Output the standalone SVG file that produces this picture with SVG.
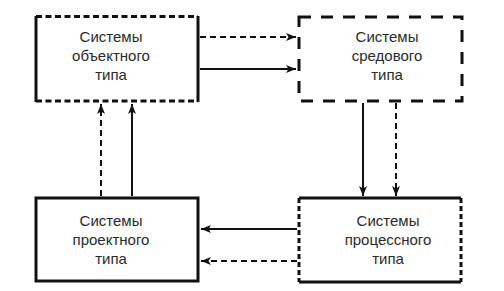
<svg xmlns="http://www.w3.org/2000/svg" width="504" height="291" viewBox="0 0 504 291">
<defs>
<marker id="ah" viewBox="0 0 10 8" refX="10" refY="4" markerWidth="10" markerHeight="8" markerUnits="userSpaceOnUse" orient="auto">
<path d="M0,0 L10,4 L0,8 L2.5,4 Z" fill="#111"/>
</marker>
<style>
.t{font-family:"Liberation Sans",Arial,sans-serif;font-size:15px;fill:#2a2a2a;text-anchor:middle}
.b{fill:none;stroke:#111;stroke-width:3}
.a{fill:none;stroke:#111;stroke-width:2;marker-end:url(#ah)}
.d{stroke-dasharray:6 4}
</style>
</defs>
<rect width="504" height="291" fill="#fff"/>
<g id="object">
<line class="b" x1="36" y1="16" x2="36" y2="102"/>
<line class="b" x1="198" y1="16" x2="198" y2="102"/>
<line class="b" x1="36" y1="16.5" x2="198" y2="16.5" stroke-dasharray="6 3.5" stroke-width="2.5"/>
<line class="b" x1="36" y1="101" x2="198" y2="101" stroke-dasharray="6 3.5" stroke-width="2.5"/>
<text class="t" x="111" y="42">Системы</text>
<text class="t" x="111" y="61">объектного</text>
<text class="t" x="111" y="80">типа</text>
</g>
<g id="environment">
<rect class="b" x="299" y="17" width="163" height="84" stroke-width="2.5" stroke-dasharray="12 10"/>
<text class="t" x="387" y="42">Системы</text>
<text class="t" x="387" y="61">средового</text>
<text class="t" x="387" y="80">типа</text>
</g>
<g id="project">
<rect class="b" x="36" y="198" width="162" height="83"/>
<text class="t" x="111" y="226">Системы</text>
<text class="t" x="111" y="245">проектного</text>
<text class="t" x="111" y="264">типа</text>
</g>
<g id="process">
<line class="b" x1="299" y1="198" x2="461" y2="198"/>
<line class="b" x1="299" y1="282" x2="461" y2="282"/>
<line class="b" x1="299" y1="198" x2="299" y2="282" stroke-width="2.5" stroke-dasharray="5 3"/>
<line class="b" x1="461" y1="198" x2="461" y2="282" stroke-width="2.5" stroke-dasharray="5 3"/>
<text class="t" x="388" y="226">Системы</text>
<text class="t" x="388" y="245">процессного</text>
<text class="t" x="388" y="264">типа</text>
</g>
<g id="connectors">
<line class="a d" x1="200" y1="37" x2="296" y2="37"/>
<line class="a" x1="200" y1="69" x2="296" y2="69"/>
<line class="a" x1="363" y1="103" x2="363" y2="196"/>
<line class="a d" x1="396" y1="103" x2="396" y2="196"/>
<line class="a" x1="297" y1="229" x2="201" y2="229"/>
<line class="a d" x1="297" y1="261" x2="201" y2="261"/>
<line class="a d" x1="101" y1="196" x2="101" y2="104"/>
<line class="a" x1="132" y1="196" x2="132" y2="104"/>
</g>
</svg>
